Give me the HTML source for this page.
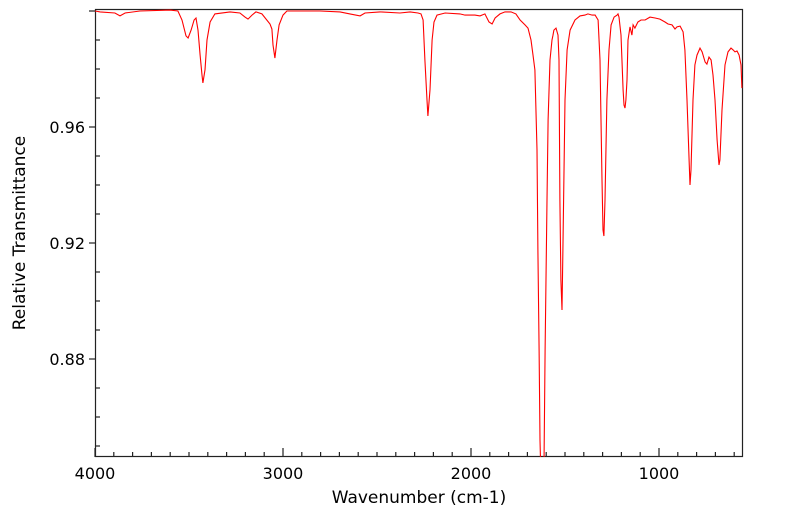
<!DOCTYPE html>
<html><head><meta charset="utf-8"><style>
body{margin:0;background:#fff}
svg{display:block;font-family:"DejaVu Sans","Liberation Sans",sans-serif}
</style></head><body>
<svg id="chart" width="799" height="516" viewBox="0 0 799 516" xmlns="http://www.w3.org/2000/svg">
<defs><clipPath id="clip"><rect x="95" y="9" width="648" height="448"/></clipPath></defs>
<rect x="95.5" y="9.5" width="647" height="447" fill="none" stroke="#222" stroke-width="1.2"/>
<g id="axes"></g>
<path id="line" fill="none" stroke="#f00" stroke-width="1.1" clip-path="url(#clip)"/>
<text x="419" y="503" font-size="17" text-anchor="middle">Wavenumber (cm-1)</text>
<text transform="translate(25,233) rotate(-90)" font-size="17" text-anchor="middle">Relative Transmittance</text>
</svg>
<script>
const xTickLabels=[4000,3000,2000,1000];
const yTickLabels=[0.88,0.92,0.96];
const wavenumbers=[
4000,3973,3894,3867,3840,3761,3601,3559,3537,3516,
3505,3489,3473,3463,3452,3441,3431,3426,3415,3404,
3388,3362,3282,3229,3202,3186,3165,3144,3112,3069,
3059,3053,3043,3032,3021,3000,2979,2910,2803,2697,
2644,2590,2564,2484,2378,2324,2282,2266,2255,2245,
2234,2229,2218,2207,2197,2181,2138,2059,2032,1979,
1952,1926,1904,1888,1872,1846,1819,1787,1761,1739,
1713,1697,1681,1670,1660,1649,1644,1638,1633,1628,
1612,1606,1596,1590,1580,1569,1564,1559,1548,1537,
1532,1527,1522,1516,1511,1500,1489,1473,1447,1420,
1394,1378,1356,1340,1324,1314,1303,1298,1293,1287,
1277,1266,1255,1239,1223,1218,1213,1202,1191,1186,
1181,1176,1170,1165,1154,1144,1138,1128,1112,1096,
1074,1048,1021,995,968,952,931,915,904,888,
872,862,851,840,835,830,819,809,798,782,
771,755,745,734,723,713,702,691,681,676,
665,649,633,617,606,596,585,574,564,559];
const transmittance=[
1.0000,0.9997,0.9993,0.9983,0.9993,1.0000,1.0003,1.0000,0.9969,0.9914,
0.9907,0.9934,0.9969,0.9976,0.9934,0.9848,0.9779,0.9752,0.9797,0.9900,
0.9962,0.9990,0.9997,0.9993,0.9979,0.9972,0.9986,0.9997,0.9990,0.9955,
0.9938,0.9883,0.9838,0.9900,0.9952,0.9986,1.0000,1.0000,1.0000,0.9997,
0.9990,0.9983,0.9993,0.9997,0.9993,0.9997,0.9993,0.9990,0.9969,0.9831,
0.9693,0.9638,0.9728,0.9900,0.9962,0.9986,0.9993,0.9990,0.9986,0.9986,
0.9983,0.9990,0.9962,0.9955,0.9976,0.9990,0.9997,0.9997,0.9990,0.9969,
0.9952,0.9941,0.9900,0.9848,0.9797,0.9521,0.9176,0.8831,0.8520,0.8400,
0.8400,0.8831,0.9348,0.9624,0.9831,0.9900,0.9917,0.9934,0.9941,0.9917,
0.9831,0.9348,0.9072,0.8969,0.9176,0.9693,0.9866,0.9934,0.9969,0.9983,
0.9986,0.9990,0.9986,0.9986,0.9969,0.9831,0.9417,0.9245,0.9224,0.9348,
0.9693,0.9866,0.9952,0.9979,0.9986,0.9990,0.9979,0.9917,0.9728,0.9676,
0.9665,0.9693,0.9762,0.9900,0.9945,0.9917,0.9952,0.9941,0.9962,0.9969,
0.9969,0.9979,0.9976,0.9972,0.9962,0.9955,0.9952,0.9938,0.9945,0.9948,
0.9928,0.9866,0.9693,0.9486,0.9400,0.9452,0.9693,0.9814,0.9848,0.9872,
0.9859,0.9824,0.9817,0.9841,0.9831,0.9779,0.9693,0.9555,0.9469,0.9486,
0.9659,0.9814,0.9859,0.9872,0.9866,0.9859,0.9862,0.9848,0.9814,0.9734];
const W0=4000,X0=95,PX_PER_WN=0.188;
const T0=0.96,Y0=127,PX_PER_T=2900;
const xs=w=>X0+(W0-w)*PX_PER_WN;
const ys=t=>Y0-(t-T0)*PX_PER_T;
const NS="http://www.w3.org/2000/svg";
const axes=document.getElementById('axes');
function mk(tag,attrs){const e=document.createElementNS(NS,tag);for(const k in attrs)e.setAttribute(k,attrs[k]);axes.appendChild(e);return e;}
for(let w=4000;w>=600;w-=100){
  const major=w%1000===0;
  const x=xs(w);
  const t=mk('line',{x1:x,x2:x,y1:457,y2:major?448:452,stroke:'#222','stroke-width':1.2});
  
  
}
xTickLabels.forEach(v=>{
  const t=mk('text',{x:xs(v),y:479,'font-size':16,'text-anchor':'middle'});
  t.textContent=String(v);
  
  
});
for(let i=85;i<=100;i++){
  const v=i/100;const y=ys(v);
  if(y<9||y>457)continue;
  const major=(i%4===0);
  const t=mk('line',major?{x1:89,x2:95,y1:y,y2:y,stroke:'#222','stroke-width':1.2}:{x1:95,x2:100,y1:y,y2:y,stroke:'#222','stroke-width':1.2});
  
  
}
yTickLabels.forEach(v=>{
  const t=mk('text',{x:85,y:ys(v)+6,'font-size':16,'text-anchor':'end'});
  t.textContent=v.toFixed(2);
  
  
});
let d='';
wavenumbers.forEach((w,i)=>{d+=(i?'L':'M')+xs(w).toFixed(1)+','+ys(transmittance[i]).toFixed(1);});
document.getElementById('line').setAttribute('d',d);
</script>
</body></html>
